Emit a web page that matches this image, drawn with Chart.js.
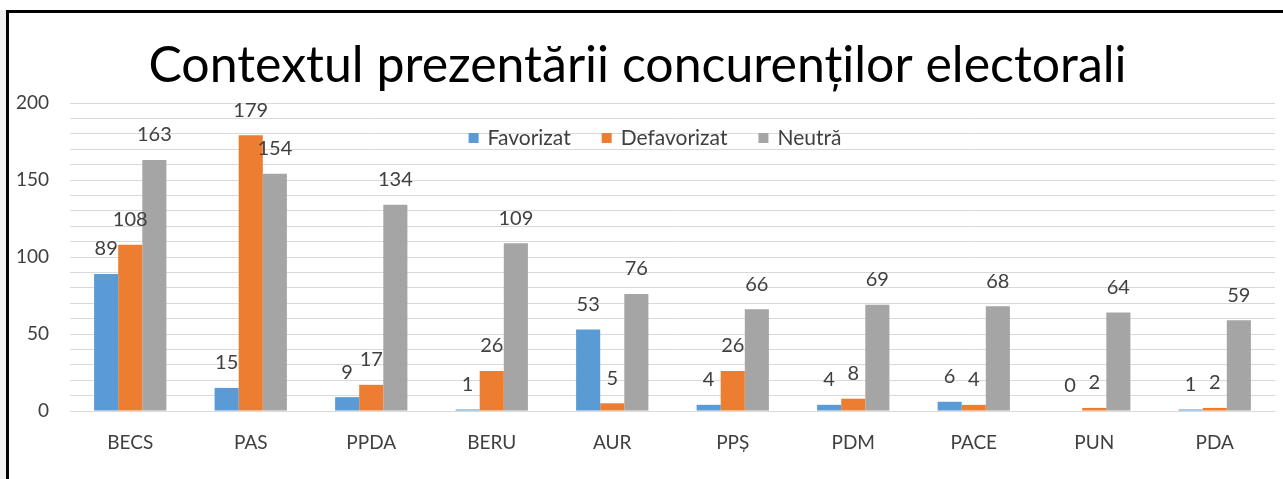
<!DOCTYPE html>
<html>
<head>
<meta charset="utf-8">
<script src="https://cdn.jsdelivr.net/npm/chart.js@4"></script>
<style>
  html, body { margin: 0; padding: 0; background: #fff; }
  #wrap { width: 1283px; height: 479px; }
</style>
</head>
<body>
<div id="wrap"><canvas id="chart" width="1283" height="479"></canvas></div>
<script>
const categories = ['BECS', 'PAS', 'PPDA', 'BERU', 'AUR', 'PPȘ', 'PDM', 'PACE', 'PUN', 'PDA'];
const favorizat = [89, 15, 9, 1, 53, 4, 4, 6, 0, 1];
const defavorizat = [108, 179, 17, 26, 5, 26, 8, 4, 2, 2];
const neutra = [163, 154, 134, 109, 76, 66, 69, 68, 64, 59];
const yTickLabels = [0, 50, 100, 150, 200];

const FONT = "Lato, 'Noto Sans', sans-serif";

// black frame on the left and top, like the cropped screenshot
const framePlugin = {
    id: 'frame',
    beforeDraw(chart) {
        const ctx = chart.ctx;
        ctx.save();
        ctx.fillStyle = '#f0f0f0';
        ctx.fillRect(0, 10, 6, chart.height - 10);
        ctx.fillStyle = '#000';
        ctx.fillRect(6, 10, 3, chart.height - 10);
        ctx.fillRect(6, 10, chart.width - 6, 3);
        ctx.restore();
    }
};

// value labels above each bar
const valueLabels = {
    id: 'valueLabels',
    afterDatasetsDraw(chart) {
        const ctx = chart.ctx;
        ctx.save();
        ctx.font = '20px ' + FONT;
        ctx.fillStyle = '#404040';
        ctx.textAlign = 'center';
        ctx.textBaseline = 'middle';
        chart.data.datasets.forEach((ds, i) => {
            chart.getDatasetMeta(i).data.forEach((bar, j) => {
                ctx.fillText(String(ds.data[j]), bar.x, bar.y - 25);
            });
        });
        ctx.restore();
    }
};

// legend drawn inside the plot area
const innerLegend = {
    id: 'innerLegend',
    afterDatasetsDraw(chart) {
        const ctx = chart.ctx;
        const box = 10, gap = 9, spacing = 31;
        ctx.save();
        ctx.font = '21px ' + FONT;
        ctx.textBaseline = 'middle';
        const items = chart.data.datasets.map(ds => ({
            label: ds.label, color: ds.backgroundColor, w: ctx.measureText(ds.label).width
        }));
        let total = items.reduce((s, it) => s + box + gap + it.w, 0) + spacing * (items.length - 1);
        let x = 655 - total / 2;
        const y = chart.chartArea.top + 35;
        items.forEach(it => {
            ctx.fillStyle = it.color;
            ctx.fillRect(x, y - box / 2, box, box);
            ctx.fillStyle = '#404040';
            ctx.fillText(it.label, x + box + gap, y);
            x += box + gap + it.w + spacing;
        });
        ctx.restore();
    }
};

new Chart(document.getElementById('chart'), {
    type: 'bar',
    data: {
        labels: categories,
        datasets: [
            { label: 'Favorizat', data: favorizat, backgroundColor: '#5b9bd5' },
            { label: 'Defavorizat', data: defavorizat, backgroundColor: '#ed7d31' },
            { label: 'Neutră', data: neutra, backgroundColor: '#a5a5a5' }
        ]
    },
    options: {
        responsive: false,
        animation: false,
        layout: { padding: { left: 0, right: 8, top: 0, bottom: 0 } },
        datasets: { bar: { categoryPercentage: 0.6, barPercentage: 1.0 } },
        scales: {
            x: {
                grid: { display: false, drawTicks: false },
                border: { display: false },
                ticks: { color: '#404040', font: { size: 19, family: FONT }, padding: 20 },
                afterFit(scale) { scale.height = 68; }
            },
            y: {
                min: 0,
                max: 200,
                grid: { color: '#d9d9d9', drawTicks: false },
                border: { display: false },
                ticks: {
                    stepSize: 10,
                    color: '#404040',
                    font: { size: 19, family: FONT },
                    padding: 21,
                    autoSkip: false,
                    callback: v => yTickLabels.includes(v) ? String(v) : ''
                },
                afterFit(scale) { scale.width = 70; }
            }
        },
        plugins: {
            legend: { display: false },
            tooltip: { enabled: false },
            title: {
                display: true,
                text: 'Contextul prezentării concurenților electorali',
                color: '#000',
                font: { size: 50, family: FONT, weight: 'normal' },
                padding: { top: 36, bottom: 7 }
            }
        }
    },
    plugins: [framePlugin, valueLabels, innerLegend]
});
</script>
</body>
</html>
